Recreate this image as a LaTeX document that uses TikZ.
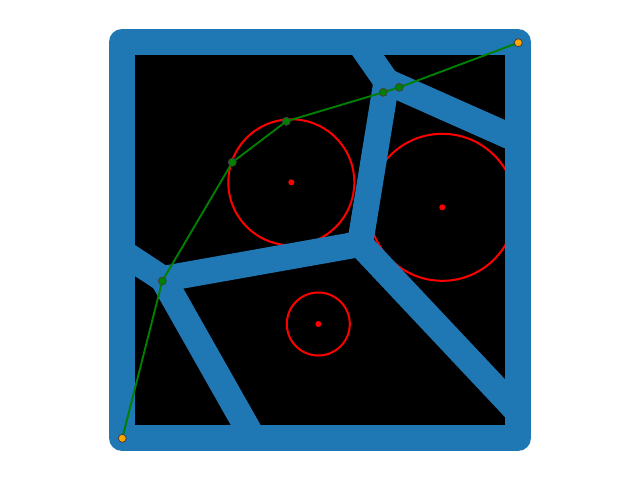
\documentclass[tikz,border=0pt]{standalone}
\usepackage{tikz}
\definecolor{mplblue}{HTML}{1F77B4}
\definecolor{mplgreen}{HTML}{008000}
\definecolor{mplorange}{HTML}{FFA500}
\definecolor{mplred}{HTML}{FF0000}
\tikzset{
  wall/.style={draw=mplblue, line width=26pt, line cap=round, line join=round},
  region/.style={draw=mplred, line width=2pt},
  centre/.style={circle, fill=mplred, inner sep=0pt, minimum size=6pt},
  route/.style={draw=mplgreen, line width=1.9pt},
  waypt/.style={circle, fill=mplgreen, draw=black!75, line width=0.8pt, inner sep=0pt, minimum size=8pt},
  endpt/.style={circle, fill=mplorange, draw=black!75, line width=0.8pt, inner sep=0pt, minimum size=8pt}
}
\begin{document}
\begin{tikzpicture}[x=1pt,y=-1pt]
\useasboundingbox (0,0) rectangle (640,480);
% corners of the square
\coordinate (TL) at (122,42);
\coordinate (TR) at (518,42);
\coordinate (BR) at (518,438);
\coordinate (BL) at (122,438);
% Voronoi vertices and wall ends
\coordinate (A) at (163,279);
\coordinate (B) at (360,244);
\coordinate (C) at (386.5,81.5);
\coordinate (Wl) at (122,252);
\coordinate (Wb) at (253,438);
\coordinate (Wt) at (359,42);
\coordinate (Wr1) at (518,140);
\coordinate (Wr2) at (518,412);
% route points
\coordinate (s) at (122.3,438.3);
\coordinate (p1) at (162.3,281);
\coordinate (p2) at (232.3,162.3);
\coordinate (p3) at (286.3,121.3);
\coordinate (p4) at (383.3,92.3);
\coordinate (p5) at (399.3,87.3);
\coordinate (g) at (518.3,42.7);
% black interior
\fill[black] (TL) rectangle (BR);
% red circles
\draw[region] (291.3,182.3) circle[radius=63];
\draw[region] (442.3,207.3) circle[radius=73.5];
\draw[region] (318.3,324) circle[radius=31.5];
\node[centre] (c1) at (291.3,182.3) {};
\node[centre] (c2) at (442.3,207.3) {};
\node[centre] (c3) at (318.3,324) {};
% blue walls
\draw[wall] (TL) -- (TR) -- (BR) -- (BL) -- cycle;
\draw[wall] (Wl) -- (A) -- (B) -- (C) -- (Wt);
\draw[wall] (A) -- (Wb);
\draw[wall] (C) -- (Wr1);
\draw[wall] (B) -- (Wr2);
% green route
\draw[route] (s) -- (p1) -- (p2) -- (p3) -- (p4) -- (p5) -- (g);
\node[endpt] (ns) at (s) {};
\node[waypt] (n1) at (p1) {};
\node[waypt] (n2) at (p2) {};
\node[waypt] (n3) at (p3) {};
\node[waypt] (n4) at (p4) {};
\node[waypt] (n5) at (p5) {};
\node[endpt] (ng) at (g) {};
\end{tikzpicture}
\end{document}
